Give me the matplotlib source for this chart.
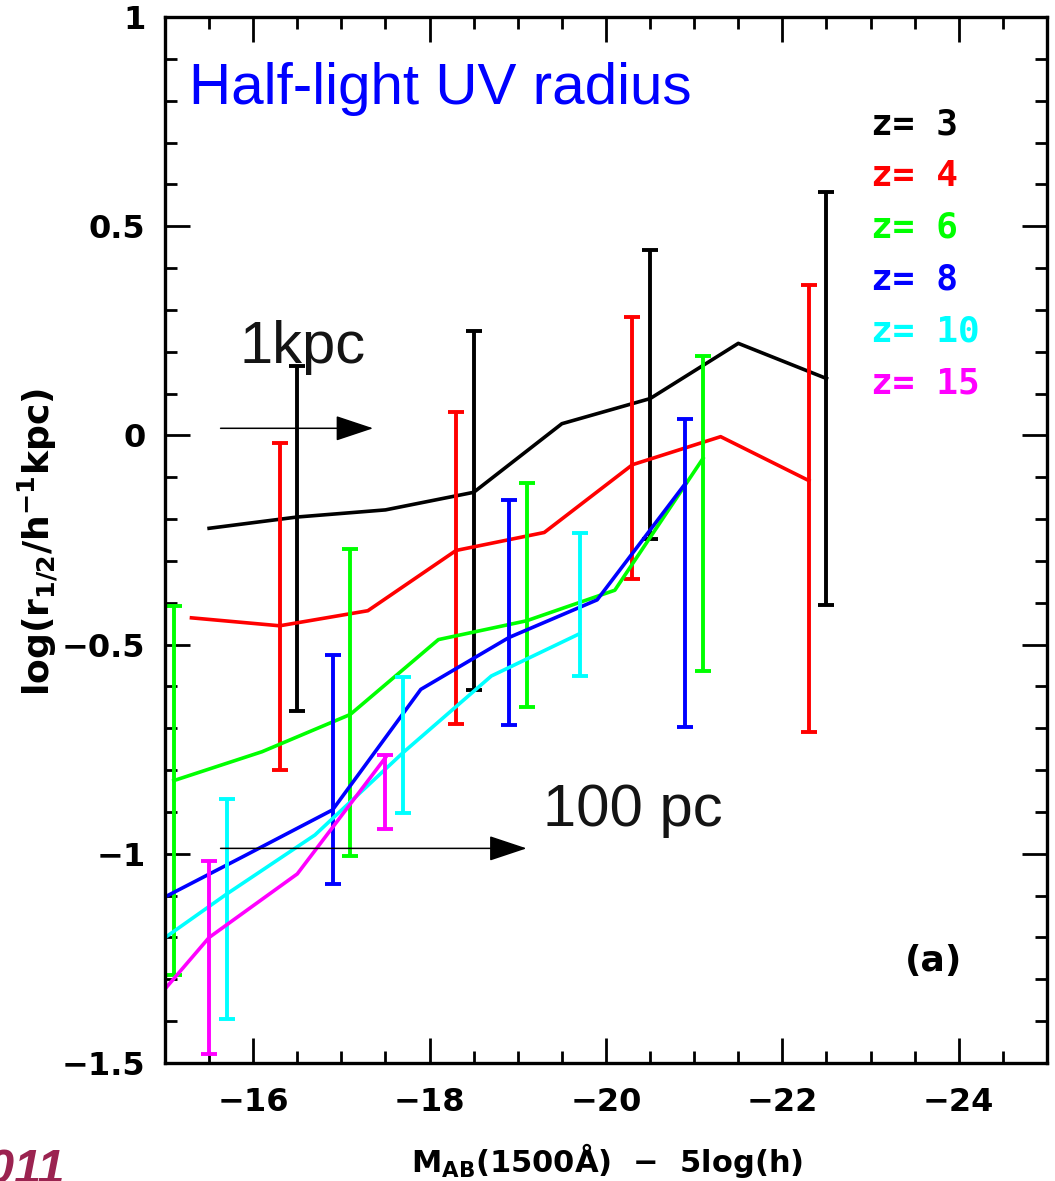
import matplotlib.pyplot as plt

plt.rcParams['font.family'] = 'DejaVu Sans'
plt.rcParams['font.weight'] = 'bold'
plt.rcParams['mathtext.default'] = 'bf'

labels = ['z= 3', 'z= 4', 'z= 6', 'z= 8', 'z= 10', 'z= 15']
colors = ['black', '#ff0000', '#00ff00', '#0000ff', '#00ffff', '#ff00ff']

# median half-light radius per magnitude bin
mag3 = [-15.5, -16.5, -17.5, -18.5, -19.5, -20.5, -21.5, -22.5]
r3 = [-0.222, -0.195, -0.178, -0.136, 0.028, 0.088, 0.220, 0.136]
mag4 = [-15.3, -16.3, -17.3, -18.3, -19.3, -20.3, -21.3, -22.3]
r4 = [-0.436, -0.455, -0.419, -0.275, -0.232, -0.070, -0.003, -0.108]
mag6 = [-15.1, -16.1, -17.1, -18.1, -19.1, -20.1, -21.1]
r6 = [-0.825, -0.756, -0.667, -0.488, -0.443, -0.370, -0.055]
mag8 = [-14.9, -15.9, -16.9, -17.9, -18.9, -19.9, -20.9]
r8 = [-1.114, -1.005, -0.895, -0.607, -0.483, -0.393, -0.115]
mag10 = [-14.7, -15.7, -16.7, -17.7, -18.7, -19.7]
r10 = [-1.245, -1.096, -0.955, -0.758, -0.575, -0.474]
mag15 = [-14.5, -15.5, -16.5, -17.5]
r15 = [-1.446, -1.200, -1.048, -0.770]

# error bars: position, lower end, upper end
emag3 = [-16.5, -18.5, -20.5, -22.5]
elo3 = [-0.658, -0.608, -0.247, -0.405]
ehi3 = [0.167, 0.249, 0.443, 0.582]
emag4 = [-16.3, -18.3, -20.3, -22.3]
elo4 = [-0.800, -0.690, -0.343, -0.708]
ehi4 = [-0.018, 0.056, 0.283, 0.359]
emag6 = [-15.1, -17.1, -19.1, -21.1]
elo6 = [-1.290, -1.006, -0.650, -0.562]
ehi6 = [-0.407, -0.271, -0.114, 0.189]
emag8 = [-16.9, -18.9, -20.9]
elo8 = [-1.072, -0.692, -0.696]
ehi8 = [-0.526, -0.155, 0.040]
emag10 = [-15.7, -17.7, -19.7]
elo10 = [-1.395, -0.903, -0.574]
ehi10 = [-0.869, -0.577, -0.234]
emag15 = [-15.5, -17.5]
elo15 = [-1.479, -0.940]
ehi15 = [-1.017, -0.763]

xticks = [-16, -18, -20, -22, -24]
xticklabels = ['\u221216', '\u221218', '\u221220', '\u221222', '\u221224']
yticks = [1, 0.5, 0, -0.5, -1, -1.5]
yticklabels = ['1', '0.5', '0', '\u22120.5', '\u22121', '\u22121.5']

lines = [(mag3, r3), (mag4, r4), (mag6, r6), (mag8, r8), (mag10, r10), (mag15, r15)]
bars = [(emag3, elo3, ehi3), (emag4, elo4, ehi4), (emag6, elo6, ehi6),
        (emag8, elo8, ehi8), (emag10, elo10, ehi10), (emag15, elo15, ehi15)]

fig = plt.figure(figsize=(10.55, 11.81), dpi=100)
ax = fig.add_axes([0.1564, 0.0999, 0.8360, 0.8857])

for (m, r), (em, lo, hi), c in zip(lines, bars, colors):
    ax.plot(m, r, color=c, lw=2.6)
    mid = [(a + b) / 2 for a, b in zip(lo, hi)]
    err = [[y - a for y, a in zip(mid, lo)], [b - y for y, b in zip(mid, hi)]]
    ax.errorbar(em, mid, yerr=err, fmt='none', ecolor=c, elinewidth=2.8,
                capsize=6, capthick=2.8)

ax.set_xlim(-15, -25)
ax.set_ylim(-1.5, 1)
ax.set_xticks(xticks, xticklabels)
ax.set_yticks(yticks, yticklabels)
ax.set_xticks([-15.5 - 0.5 * i for i in range(19)], minor=True)
ax.set_yticks([-1.4 + 0.1 * i for i in range(24)], minor=True)
ax.tick_params(which='both', direction='in', top=True, right=True, width=2)
ax.tick_params(which='major', length=18, labelsize=23)
ax.tick_params(which='minor', length=8.5)
ax.tick_params(axis='y', pad=14)
ax.tick_params(axis='x', pad=17)
for s in ax.spines.values():
    s.set_linewidth(2.4)

# redshift key
for i, (lab, c) in enumerate(zip(labels, colors)):
    ax.text(0.800, 0.8977 - i * 0.0497, lab, transform=ax.transAxes, color=c,
            family='DejaVu Sans Mono', fontsize=26, va='center', ha='left')

ax.text(-23.71, -1.256, '(a)', ha='center', va='center', fontsize=26)

ax.text(0.0272, 0.9168, 'Half-light UV radius', transform=ax.transAxes,
        color='#0000ff', family='Liberation Sans', weight='normal',
        fontsize=42, va='baseline')

arrow = dict(arrowstyle='-|>,head_length=2.4,head_width=0.8', color='black',
             lw=1.1, mutation_scale=10, shrinkA=0, shrinkB=0)
ax.annotate('', xy=(-17.36, 0.017), xytext=(-15.63, 0.017), arrowprops=arrow)
ax.annotate('', xy=(-19.10, -0.987), xytext=(-15.63, -0.987), arrowprops=arrow)
ax.text(-15.84, 0.172, '1kpc', family='Liberation Sans', weight='normal',
        fontsize=43, color='#141414', va='baseline')
ax.text(-19.29, -0.933, '100 pc', family='Liberation Sans', weight='normal',
        fontsize=43, color='#141414', va='baseline')

fig.text(38 / 1055, 1 - 542 / 1181, 'log(r$_{1/2}$/h$^{-1}$kpc)', rotation=90,
         ha='center', va='center', fontsize=26)
fig.text(607 / 1055, 1 - 1160 / 1181, '$M_{AB}$(1500\u00c5)  \u2212  5log(h)',
         ha='center', va='center', fontsize=22)

fig.text(65 / 1055, -2 / 1181, '2011', ha='right', va='baseline',
         color='#9b2350', family='Liberation Sans', style='italic',
         weight='bold', fontsize=35)

fig.savefig('out.png', dpi=100)
